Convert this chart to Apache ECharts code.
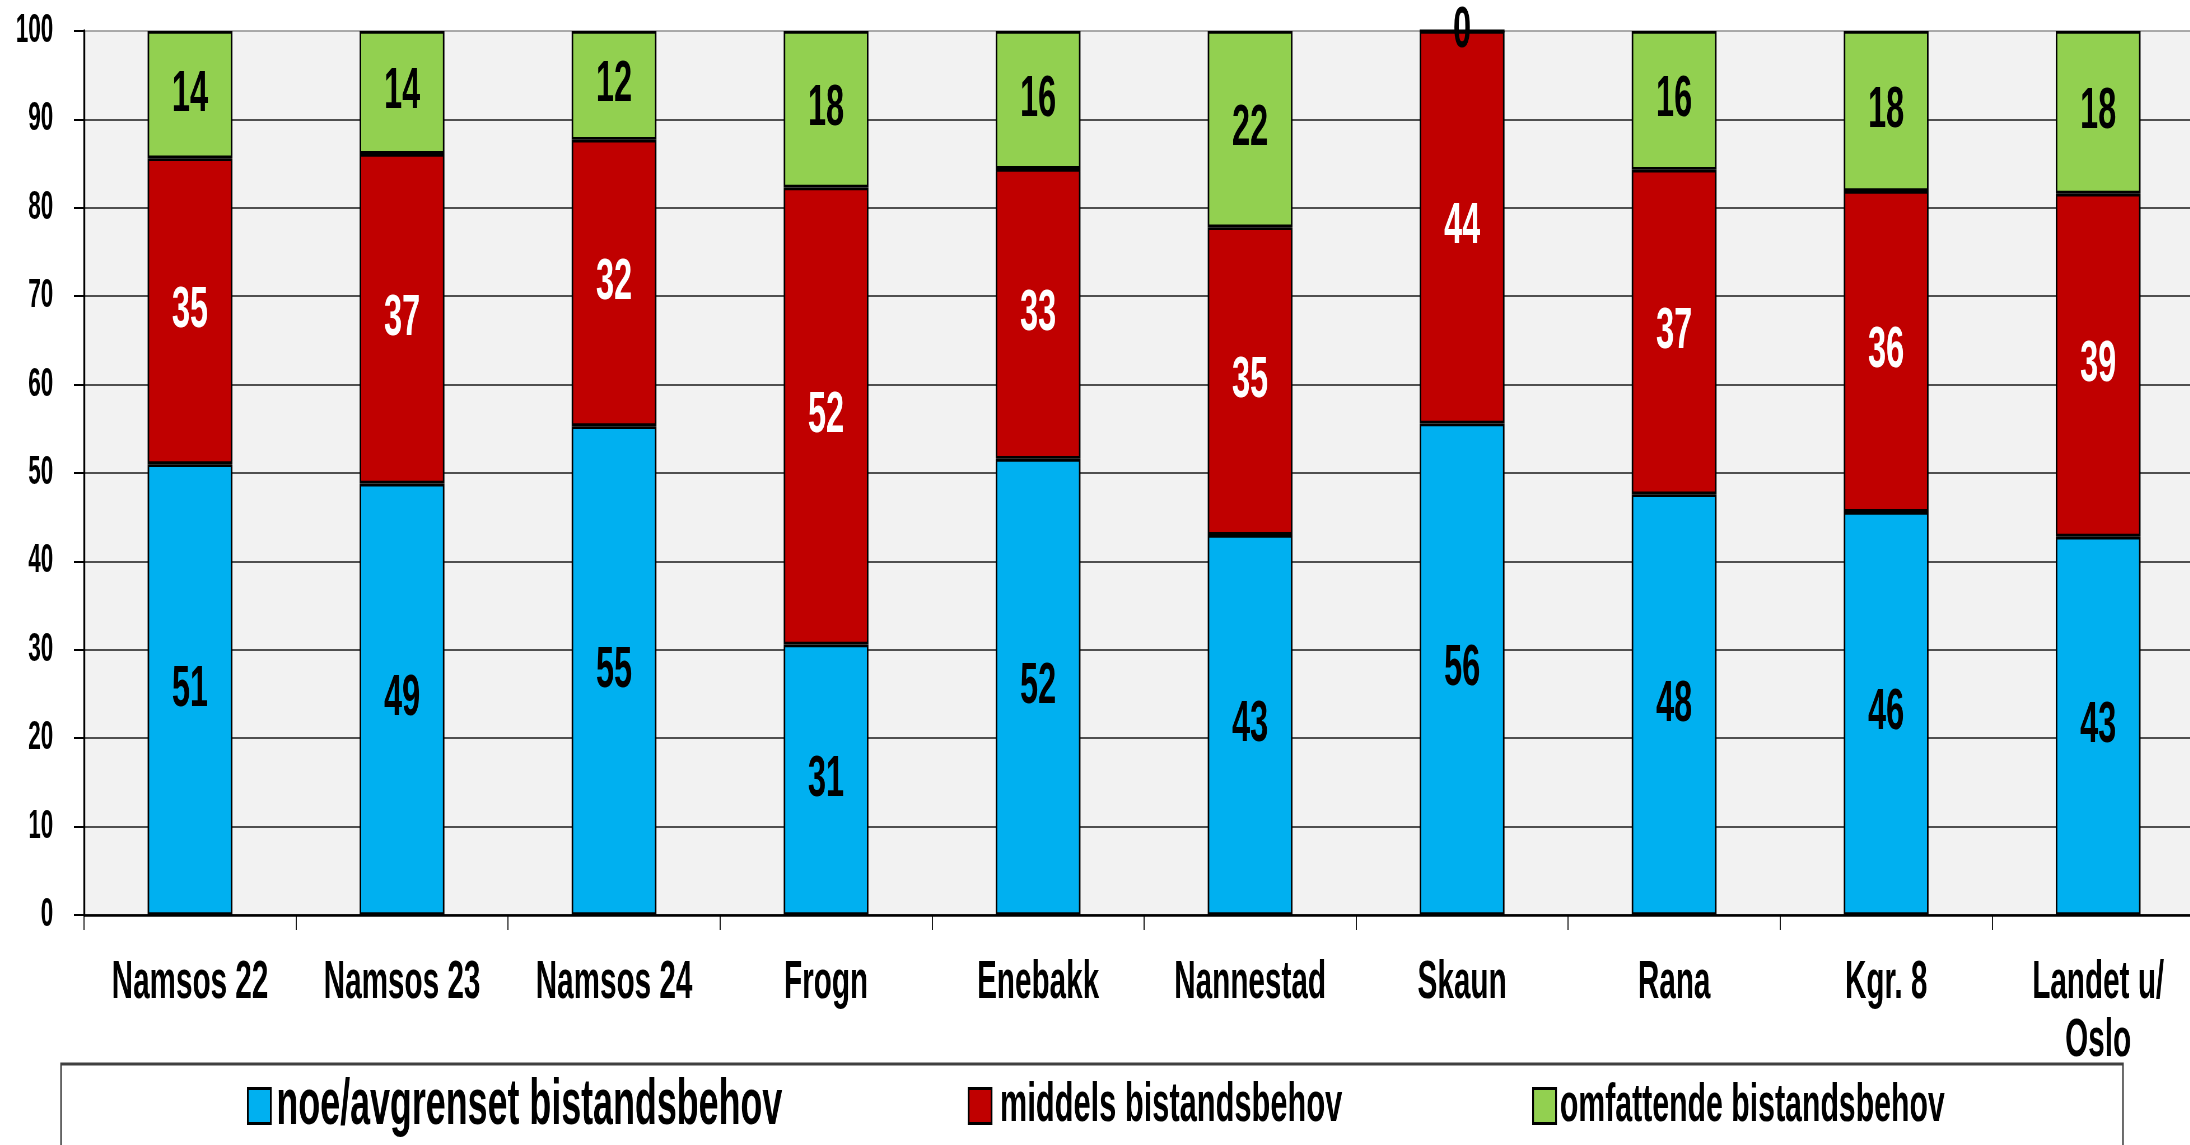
<!DOCTYPE html>
<html>
<head>
<meta charset="utf-8">
<script src="https://cdn.jsdelivr.net/npm/echarts@6/dist/echarts.min.js"></script>
<style>
  html, body { margin: 0; padding: 0; overflow: hidden; background: #fff; }
  /* The chart is laid out on a wider canvas and squeezed horizontally,
     which gives the tall, condensed lettering of the figure. */
  #chart { width: 3911px; height: 1145px; transform: scaleX(0.56); transform-origin: 0 0; }
</style>
</head>
<body>
<div id="chart"></div>
<script>
const categories = ['Namsos 22', 'Namsos 23', 'Namsos 24', 'Frogn', 'Enebakk',
                    'Nannestad', 'Skaun', 'Rana', 'Kgr. 8', 'Landet u/\nOslo'];
const seriesNames = ['noe/avgrenset bistandsbehov', 'middels bistandsbehov', 'omfattende bistandsbehov'];
const noeAvgrenset = [51.0, 48.8, 55.3, 30.6, 51.6, 43.0, 55.6, 47.6, 45.6, 42.8];
const middels      = [34.6, 37.3, 32.4, 51.7, 32.8, 34.8, 44.4, 36.7, 36.3, 38.8];
const omfattende   = [14.4, 13.9, 12.3, 17.7, 15.6, 22.2, 0.0, 15.7, 18.1, 18.4];
const seriesColors = ['#00B0F0', '#C00000', '#92D050'];
const labelColors  = ['#000000', '#FFFFFF', '#000000'];

const FONT = '"Liberation Sans", Arial, sans-serif';
const chart = echarts.init(document.getElementById('chart'), null, { renderer: 'canvas' });

// grid line colours from 0 up to 100; the top one is the lighter frame edge
const splitColors = [];
for (let i = 0; i <= 10; i++) splitColors.push(i === 10 ? '#8f8f8f' : '#1a1a1a');

function barSeries(idx, values) {
  return {
    name: seriesNames[idx],
    type: 'bar',
    stack: 'total',
    barWidth: '40%',
    data: values,
    itemStyle: { color: seriesColors[idx], borderColor: '#000', borderWidth: 2.8 },
    label: {
      show: true,
      position: 'inside',
      formatter: p => String(Math.round(p.value)),
      color: labelColors[idx],
      fontFamily: FONT,
      fontWeight: 'bold',
      fontSize: 58
    },
    emphasis: { disabled: true }
  };
}

// each legend row is centred on y = 1106
function legendFor(idx, left, size, pad) {
  return {
    data: [seriesNames[idx]],
    left: left,
    top: 1106 - size / 2,
    itemWidth: 41,
    itemHeight: 35,
    padding: 0,
    icon: 'rect',
    itemStyle: { borderColor: '#000', borderWidth: 3.2 },
    textStyle: { fontFamily: FONT, fontWeight: 'bold', fontSize: size, color: '#000', padding: [0, 0, 0, pad] },
    selectedMode: false
  };
}

chart.setOption({
  animation: false,
  backgroundColor: '#ffffff',
  grid: {
    left: 150, top: 31, width: 3786, height: 884,
    containLabel: false, outerBoundsMode: 'none',
    show: true, backgroundColor: '#F2F2F2', borderWidth: 0
  },
  graphic: [{
    type: 'rect', z: -10,
    shape: { x: 109, y: 1064, width: 3682, height: 200 },
    style: { fill: '#ffffff', stroke: '#404040', lineWidth: 2.8 }
  }],
  legend: [
    legendFor(0, 441, 64, 5),
    legendFor(1, 1728, 55, 10),
    legendFor(2, 2736, 54, 2)
  ],
  xAxis: {
    type: 'category',
    data: categories,
    boundaryGap: true,
    axisLine: { show: true, lineStyle: { color: '#000', width: 2.5 } },
    axisTick: { show: true, length: 15, alignWithLabel: false, lineStyle: { color: '#000', width: 1.8 } },
    axisLabel: {
      interval: 0, margin: 39, lineHeight: 58,
      fontFamily: FONT, fontWeight: 'bold', fontSize: 53, color: '#000'
    },
    splitLine: { show: false }
  },
  yAxis: {
    type: 'value',
    min: 0, max: 100, interval: 10,
    axisLine: { show: true, lineStyle: { color: '#000', width: 3.4 } },
    axisTick: { show: true, length: 18, lineStyle: { color: '#000', width: 2 } },
    axisLabel: { margin: 55, fontFamily: FONT, fontWeight: 'bold', fontSize: 40, color: '#000' },
    splitLine: { show: true, lineStyle: { color: splitColors, width: 1.6 } }
  },
  series: [
    barSeries(0, noeAvgrenset),
    barSeries(1, middels),
    barSeries(2, omfattende)
  ]
});
</script>
</body>
</html>
